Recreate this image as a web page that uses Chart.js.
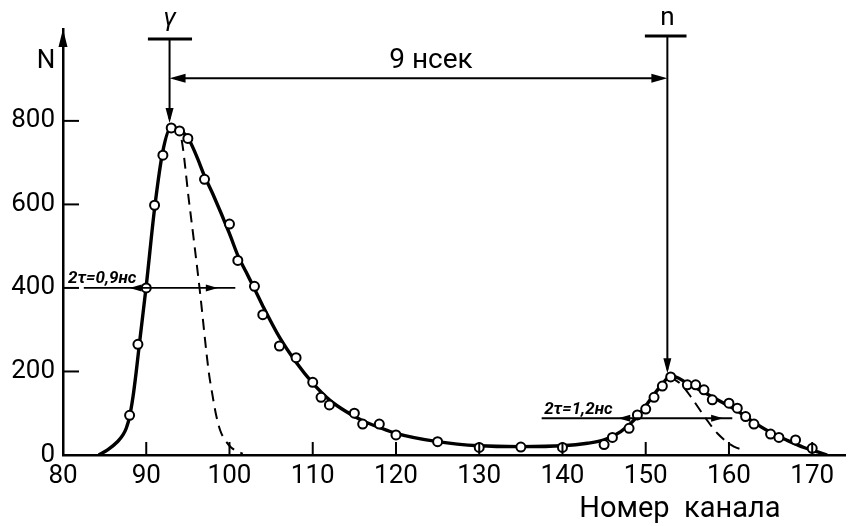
<!DOCTYPE html>
<html>
<head>
<meta charset="utf-8">
<script src="https://cdn.jsdelivr.net/npm/chart.js@4/dist/chart.umd.min.js"></script>
<style>
  html, body { margin: 0; padding: 0; background: #fff; }
  canvas { display: block; }
</style>
</head>
<body>
<canvas id="chart" width="852" height="526"></canvas>
<script>
// measured points (channel number, counts)
const pointX = [88, 89, 90, 91, 92, 93, 94, 95, 97, 100, 101, 103, 104, 106, 108, 110,
  111, 112, 115, 116, 118, 120, 125, 130, 135, 140, 145, 146, 148, 149, 150, 151, 152,
  153, 155, 156, 157, 158, 160, 161, 162, 163, 165, 166, 168, 170];
const pointN = [95, 265, 400, 598, 718, 783, 776, 758, 660, 553, 466, 404, 336, 261, 233, 174,
  138, 120, 100, 74, 74, 48, 32, 18, 19, 18, 25, 42, 64, 96, 110, 138, 165,
  187, 168, 168, 156, 132, 124, 112, 92, 74, 50, 42, 36, 16];

// solid curve drawn through the points
const curveX = [84.3, 85.4, 86.6, 87.2, 87.6, 88, 88.4, 88.8, 89.2, 90, 91, 92, 93, 94, 95, 96,
  97, 98, 100, 101, 102, 103, 104, 106, 108, 110, 112, 114, 116, 118, 120, 125, 130, 135,
  140, 143, 145, 147, 149, 151, 152, 153, 155, 157, 159, 161, 163, 165, 167, 169, 171, 171.8];
const curveN = [0, 13, 33, 48, 64, 92, 138, 200, 270, 405, 590, 728, 785, 778, 760, 718,
  668, 625, 530, 478, 438, 398, 357, 282, 222, 172, 132, 104, 82, 66, 52, 32, 22, 20,
  22, 28, 36, 56, 92, 145, 170, 190, 172, 150, 128, 106, 78, 54, 35, 18, 5, 0];

// dashed curves (gamma peak and neutron peak shapes)
const gammaDashX = [93, 94, 95.2, 96.4, 97.5, 97.9, 98.4, 98.9, 99.5, 100.2, 101.6];
const gammaDashN = [783, 773, 597, 400, 200, 150, 95, 58, 35, 18, 3];
const nDashX = [153, 154.3, 155.4, 157.2, 158.6, 160.6, 161.6];
const nDashN = [187, 168, 140, 88, 52, 20, 13];

const xTicks = [80, 90, 100, 110, 120, 130, 140, 150, 160, 170];
const yTicks = [0, 200, 400, 600, 800];

const zip = (xs, ys) => xs.map((x, i) => ({ x, y: ys[i] }));
const FONT = 'Roboto, "DejaVu Sans", sans-serif';

function arrowHead(ctx, x, y, ang, len, half) {
    ctx.save();
    ctx.translate(x, y);
    ctx.rotate(ang);
    ctx.beginPath();
    ctx.moveTo(0, 0);
    ctx.lineTo(-len, -half);
    ctx.lineTo(-len, half);
    ctx.closePath();
    ctx.fill();
    ctx.restore();
}

// ticks pointing inward, axis arrow, peak markers and labels
const annotate = {
    id: 'annotate',
    afterDraw(chart) {
        const { ctx, scales: { x, y } } = chart;
        const px = v => x.getPixelForValue(v);
        const py = v => y.getPixelForValue(v);
        const line = (x1, y1, x2, y2, w) => {
            ctx.lineWidth = w;
            ctx.beginPath();
            ctx.moveTo(px(x1), py(y1));
            ctx.lineTo(px(x2), py(y2));
            ctx.stroke();
        };
        const text = (s, xv, yv, font, align = 'center', base = 'middle') => {
            ctx.font = font;
            ctx.textAlign = align;
            ctx.textBaseline = base;
            ctx.fillText(s, px(xv), py(yv));
        };

        ctx.save();
        ctx.strokeStyle = '#000';
        ctx.fillStyle = '#000';
        ctx.lineCap = 'butt';

        // tick marks inside the plot
        ctx.lineWidth = 2;
        xTicks.slice(1).forEach(v => {
            ctx.beginPath();
            ctx.moveTo(px(v), y.bottom);
            ctx.lineTo(px(v), y.bottom - 13);
            ctx.stroke();
        });
        yTicks.slice(1).forEach(v => {
            ctx.beginPath();
            ctx.moveTo(x.left, py(v));
            ctx.lineTo(x.left + 16, py(v));
            ctx.stroke();
        });

        // y axis arrow and label
        arrowHead(ctx, x.left, y.top, -Math.PI / 2, 18, 4.5);
        text('N', 77.97, 941, `26px ${FONT}`);

        // gamma marker
        line(90.2, 996, 95.5, 996, 3);
        line(92.8, 996, 92.8, 805, 2);
        arrowHead(ctx, px(92.8), py(795), Math.PI / 2, 15, 4);
        text('γ', 92.8, 1043, `italic 26px ${FONT}`);

        // neutron marker
        line(149.9, 1003, 154.9, 1003, 3);
        line(152.6, 1003, 152.6, 205, 2);
        arrowHead(ctx, px(152.6), py(196), Math.PI / 2, 15, 4);
        text('n', 152.6, 1044, `26px ${FONT}`);

        // time-of-flight distance
        line(93.5, 902, 152, 902, 2);
        arrowHead(ctx, px(92.8), py(902), Math.PI, 16, 4.5);
        arrowHead(ctx, px(152.6), py(902), 0, 16, 4.5);
        text('9 нсек', 124.2, 943, `28px ${FONT}`);

        // FWHM marks
        line(82.5, 400, 100.7, 400, 1.8);
        arrowHead(ctx, px(88), py(400), Math.PI, 12, 3.5);
        arrowHead(ctx, px(98.6), py(400), 0, 12, 3.5);
        text('2τ=0,9нс', 80.6, 412, `italic bold 17px ${FONT}`, 'left', 'alphabetic');

        line(137.5, 88, 160.4, 88, 1.8);
        arrowHead(ctx, px(146.7), py(88), Math.PI, 12, 3.5);
        arrowHead(ctx, px(159.3), py(88), 0, 12, 3.5);
        text('2τ=1,2нс', 137.8, 99, `italic bold 17px ${FONT}`, 'left', 'alphabetic');

        // axis title
        text('Номер  канала', 154.1, -132, `29px ${FONT}`);
        ctx.restore();
    }
};

new Chart(document.getElementById('chart'), {
    type: 'line',
    data: {
        datasets: [
            {
                data: zip(pointX, pointN),
                showLine: false,
                pointRadius: 4.5,
                pointBorderWidth: 2,
                pointBackgroundColor: '#fff',
                pointBorderColor: '#000',
            },
            {
                data: zip(curveX, curveN),
                borderColor: '#000',
                borderWidth: 3.4,
                pointRadius: 0,
                cubicInterpolationMode: 'monotone',
            },
            {
                data: zip(gammaDashX, gammaDashN),
                borderColor: '#000',
                borderWidth: 2,
                borderDash: [11, 7],
                pointRadius: 0,
                cubicInterpolationMode: 'monotone',
            },
            {
                data: zip(nDashX, nDashN),
                borderColor: '#000',
                borderWidth: 2,
                borderDash: [11, 7],
                pointRadius: 0,
                cubicInterpolationMode: 'monotone',
            },
        ],
    },
    options: {
        responsive: false,
        devicePixelRatio: 1,
        animation: false,
        layout: { padding: { top: 29, right: 0, left: 0, bottom: 0 } },
        plugins: { legend: { display: false }, tooltip: { enabled: false } },
        scales: {
            x: {
                type: 'linear',
                min: 80,
                max: 174,
                grid: { display: false, drawTicks: false },
                border: { display: true, color: '#000', width: 2.5 },
                afterBuildTicks: s => { s.ticks = xTicks.map(value => ({ value })); },
                afterFit: s => { s.height = 71; },
                ticks: {
                    color: '#000',
                    padding: 6,
                    maxRotation: 0,
                    autoSkip: false,
                    font: { family: FONT, size: 26 },
                },
            },
            y: {
                min: 0,
                max: 1020,
                grid: { display: false, drawTicks: false },
                border: { display: true, color: '#000', width: 2.5 },
                afterBuildTicks: s => { s.ticks = yTicks.map(value => ({ value })); },
                afterFit: s => { s.width = 63; },
                ticks: {
                    color: '#000',
                    padding: 8,
                    font: { family: FONT, size: 26 },
                },
            },
        },
    },
    plugins: [annotate],
});
</script>
</body>
</html>
